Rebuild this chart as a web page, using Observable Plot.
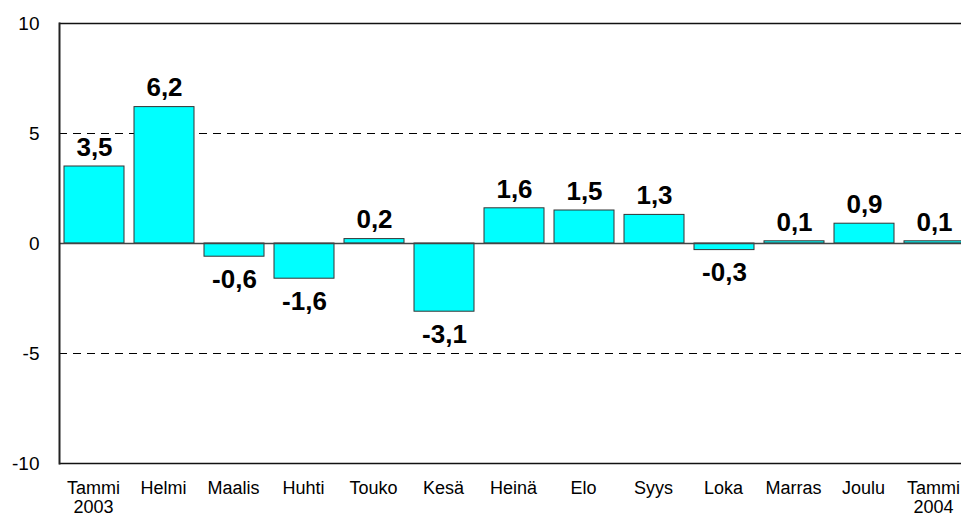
<!DOCTYPE html>
<html><head><meta charset="utf-8">
<script src="https://cdn.jsdelivr.net/npm/d3@7"></script>
<script src="https://cdn.jsdelivr.net/npm/@observablehq/plot@0.6"></script>
<style>body{margin:0;background:#fff;} #chart{width:961px;height:520px;overflow:hidden;}</style>
</head><body><div id="chart"></div>
<script>
const months = ["Tammi 2003","Helmi","Maalis","Huhti","Touko","Kesä","Heinä","Elo","Syys","Loka","Marras","Joulu","Tammi 2004"];
const monthLabels = ["Tammi\n2003","Helmi","Maalis","Huhti","Touko","Kesä","Heinä","Elo","Syys","Loka","Marras","Joulu","Tammi\n2004"];
const values = [3.5, 6.2, -0.6, -1.6, 0.2, -3.1, 1.6, 1.5, 1.3, -0.3, 0.1, 0.9, 0.1];
const yTicks = [-10, -5, 0, 5, 10];
const gridLines = [-5, 5];

const data = months.map((m, i) => ({month: m, label: monthLabels[i], value: values[i]}));
const fmt = v => v.toFixed(1).replace(".", ",");
const labelOf = new Map(data.map(d => [d.month, d.label]));
const font = "'Liberation Sans', Arial, sans-serif";

const chart = Plot.plot({
  width: 961, height: 520,
  marginTop: 23, marginBottom: 57, marginLeft: 59, marginRight: 0,
  style: {fontFamily: font, fontSize: "19px", color: "#000", background: "#fff", overflow: "hidden"},
  x: {domain: months, range: [59, 969], paddingInner: 0.143, paddingOuter: 0.0715, label: null},
  y: {domain: [-10, 10], label: null},
  marks: [
    Plot.ruleY(gridLines, {stroke: "#000", strokeDasharray: "8,6", strokeWidth: 1}),
    Plot.barY(data, {x: "month", y: "value", fill: "#00FFFF", stroke: "#333", strokeWidth: 1}),
    Plot.ruleY([0], {stroke: "#444", strokeWidth: 1.5}),
    Plot.ruleY([10, -10], {stroke: "#111", strokeWidth: 1.5}),
    Plot.frame({anchor: "left", stroke: "#222", strokeWidth: 2}),
    Plot.axisY(yTicks, {tickSize: 0, tickPadding: 20, fontSize: 19, label: null, tickFormat: d => d}),
    Plot.axisX({tickSize: 0, tickPadding: 17, fontSize: 18, dx: -1, label: null, tickFormat: d => labelOf.get(d), lineHeight: 1.05}),
    Plot.text(data, {x: "month", y: "value", text: d => fmt(d.value), fontSize: 26, fontWeight: "bold",
      filter: d => d.value >= 0, dy: -19}),
    Plot.text(data, {x: "month", y: "value", text: d => fmt(d.value), fontSize: 26, fontWeight: "bold",
      filter: d => d.value < 0, dy: 23})
  ]
});
document.getElementById("chart").append(chart);
</script></body></html>
